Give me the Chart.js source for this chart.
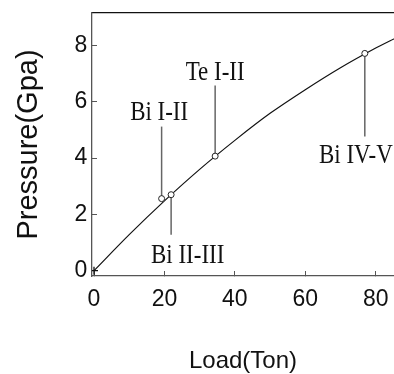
<!DOCTYPE html>
<html>
<head>
<meta charset="utf-8">
<script src="https://cdn.jsdelivr.net/npm/chart.js@4"></script>
<style>
  html, body { margin: 0; padding: 0; background: #fff; overflow: hidden; }
  canvas { display: block; }
</style>
</head>
<body>
<canvas id="loadChart" width="394" height="374"></canvas>
<script>
// calibration curve
const loads = [0, 10, 20, 30, 40, 50, 60, 70, 80, 86];
const pressures = [0, 1.28, 2.48, 3.60, 4.63, 5.59, 6.43, 7.21, 7.91, 8.29];

// fixed points
const phaseNames = ['Bi I-II', 'Bi II-III', 'Te I-II', 'Bi IV-V'];
const phaseLoads = [19.2, 21.9, 34.4, 76.9];
const phasePressures = [2.56, 2.70, 4.07, 7.72];
const leaderEnds = [5.12, 1.28, 6.58, 4.77];
const labelLoads = [18.5, 26.6, 34.4, 63.9];
const labelPressures = [5.36, 0.27, 6.79, 3.83];
const labelAligns = ['center', 'center', 'center', 'left'];

const xTicks = [0, 20, 40, 60, 80];
const yTicks = [0, 2, 4, 6, 8];

var curveData = loads.map((x, i) => ({x: x, y: pressures[i]}));
var pointData = phaseLoads.map((x, i) => ({x: x, y: phasePressures[i]}));

var datasets = [{
    label: 'curve',
    data: curveData,
    showLine: true,
    borderColor: '#111',
    borderWidth: 1.2,
    pointRadius: 0,
    tension: 0.3,
    order: 1
}, {
    label: 'points',
    data: pointData,
    showLine: false,
    pointRadius: 3,
    pointStyle: 'circle',
    pointBorderColor: '#222',
    pointBackgroundColor: '#fff',
    pointBorderWidth: 1,
    order: 0
}, {
    label: 'origin',
    data: [{x: loads[0], y: pressures[0]}],
    showLine: false,
    pointStyle: 'cross',
    pointRadius: 4,
    pointBorderColor: '#111',
    pointBorderWidth: 1.3,
    order: 0
}];

// leader lines from labels to points
phaseLoads.forEach((x, i) => {
    datasets.push({
        label: 'leader ' + phaseNames[i],
        data: [{x: x, y: phasePressures[i]}, {x: x, y: leaderEnds[i]}],
        showLine: true,
        borderColor: '#666',
        borderWidth: 1.5,
        pointRadius: 0,
        order: 2
    });
});

// phase labels, condensed serif
const phaseLabels = {
    id: 'phaseLabels',
    afterDatasetsDraw(chart) {
        const ctx = chart.ctx;
        const xs = chart.scales.x, ys = chart.scales.y;
        ctx.save();
        ctx.fillStyle = '#111';
        ctx.font = "27px 'Liberation Serif'";
        ctx.textBaseline = 'alphabetic';
        phaseNames.forEach((name, i) => {
            ctx.save();
            ctx.translate(xs.getPixelForValue(labelLoads[i]), ys.getPixelForValue(labelPressures[i]));
            ctx.scale(0.85, 1);
            ctx.textAlign = labelAligns[i];
            ctx.fillText(name, 0, 0);
            ctx.restore();
        });
        ctx.restore();
    }
};

var tickFont = {family: "'Liberation Sans'", size: 23};

// no extra padding from the tick labels
function noPad(s) {
    s.paddingLeft = 0;
    s.paddingRight = 0;
    s.paddingTop = 0;
    s.paddingBottom = 0;
}

new Chart(document.getElementById('loadChart').getContext('2d'), {
    type: 'scatter',
    data: {datasets: datasets},
    options: {
        responsive: false,
        animation: false,
        layout: {padding: 0, autoPadding: false},
        plugins: {legend: {display: false}, tooltip: {enabled: false}},
        scales: {
            x: {
                type: 'linear',
                position: 'bottom',
                min: -0.568,
                max: 85.19,
                afterBuildTicks: s => { s.ticks = xTicks.map(v => ({value: v})); },
                afterFit: s => { s.height = 98; noPad(s); },
                ticks: {font: tickFont, color: '#111', padding: 15, maxRotation: 0},
                grid: {drawOnChartArea: false, drawTicks: true, tickLength: -5, color: '#555'},
                border: {color: '#555', width: 1.3},
                title: {
                    display: true,
                    text: 'Load(Ton)',
                    font: {family: "'Liberation Sans'", size: 24, lineHeight: 1},
                    color: '#111',
                    padding: {top: 0, bottom: 1}
                }
            },
            x2: {
                type: 'linear',
                position: 'top',
                min: -0.568,
                max: 85.19,
                afterFit: s => { s.height = 13; noPad(s); },
                ticks: {display: false},
                grid: {drawOnChartArea: false, drawTicks: false},
                border: {color: '#111', width: 1.3}
            },
            y: {
                type: 'linear',
                min: -0.189,
                max: 9.156,
                afterBuildTicks: s => { s.ticks = yTicks.map(v => ({value: v})); },
                afterFit: s => { s.width = 92; noPad(s); },
                ticks: {font: tickFont, color: '#111', padding: 9.7},
                grid: {drawOnChartArea: false, drawTicks: true, tickLength: -5, color: '#555'},
                border: {color: '#555', width: 1.3},
                title: {
                    display: true,
                    text: 'Pressure(Gpa)',
                    font: {family: "'Liberation Sans'", size: 29},
                    color: '#111',
                    padding: {top: 11.6, bottom: 0}
                }
            }
        }
    },
    plugins: [phaseLabels]
});
</script>
</body>
</html>
